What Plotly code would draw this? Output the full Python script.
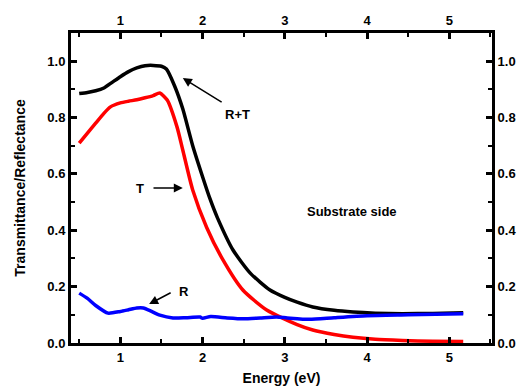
import plotly.graph_objects as go

# R+T (black)
e_rt = [0.5, 0.6, 0.7, 0.8, 0.9, 1.0, 1.1, 1.2, 1.3, 1.4, 1.5, 1.56, 1.66, 1.76, 1.88, 2.0, 2.09, 2.18, 2.37,
        2.58, 2.82, 3.0, 3.15, 3.34, 3.6, 3.83, 4.1, 4.43, 4.8, 5.17]
rt = [0.885, 0.889, 0.895, 0.905, 0.925, 0.945, 0.963, 0.976, 0.984, 0.985, 0.982, 0.972, 0.912, 0.83, 0.7,
      0.59, 0.512, 0.445, 0.33, 0.248, 0.188, 0.162, 0.145, 0.128, 0.116, 0.11, 0.106, 0.104, 0.105, 0.107]

# T (red)
e_t = [0.5, 0.6, 0.7, 0.8, 0.88, 1.0, 1.1, 1.2, 1.3, 1.4, 1.48, 1.57, 1.69, 1.76, 1.88, 2.05, 2.25, 2.49,
       2.78, 3.15, 3.34, 3.6, 3.83, 4.1, 4.43, 4.8, 5.17]
t = [0.709, 0.745, 0.78, 0.815, 0.838, 0.852, 0.858, 0.863, 0.87, 0.878, 0.887, 0.862, 0.766, 0.684, 0.543,
     0.41, 0.294, 0.188, 0.117, 0.065, 0.046, 0.03, 0.02, 0.013, 0.009, 0.006, 0.005]

# R (blue)
e_r = [0.5, 0.6, 0.7, 0.85, 1.0, 1.1, 1.2, 1.28, 1.38, 1.48, 1.64, 1.8, 1.97, 2.0, 2.1, 2.3, 2.5, 2.7, 2.9,
       3.03, 3.3, 3.6, 4.0, 4.5, 5.17]
r = [0.177, 0.158, 0.133, 0.106, 0.112, 0.118, 0.124, 0.124, 0.112, 0.099, 0.089, 0.09, 0.092, 0.088, 0.094,
     0.089, 0.086, 0.089, 0.092, 0.089, 0.084, 0.09, 0.097, 0.1, 0.104]

x_ticks = [1, 2, 3, 4, 5]
y_ticks = [0.0, 0.2, 0.4, 0.6, 0.8, 1.0]
x_range = [0.4, 5.52]
y_range = [0.0, 1.1]

FONT = "Liberation Sans, Arial, sans-serif"

fig = go.Figure()
fig.add_trace(go.Scatter(x=e_rt, y=rt, mode="lines", line=dict(color="black", width=3.5, shape="spline", smoothing=0.6)))
fig.add_trace(go.Scatter(x=e_t, y=t, mode="lines", line=dict(color="#ff0000", width=3.5, shape="spline", smoothing=0.6)))
fig.add_trace(go.Scatter(x=e_r, y=r, mode="lines", line=dict(color="#0000ff", width=3.5, shape="spline", smoothing=0.6)))
# dummy trace for top/right axes
fig.add_trace(go.Scatter(x=[x_range[0]], y=[y_range[0]], xaxis="x2", yaxis="y2", mode="markers",
                         marker=dict(opacity=0), hoverinfo="skip"))

tickfont = dict(family=FONT, size=13, color="black", weight="bold")
common = dict(showline=True, linecolor="black", linewidth=3, ticks="inside", ticklen=6, tickwidth=2.5,
              tickcolor="black", showgrid=False, zeroline=False, tickfont=tickfont, automargin=False)
minor_x = dict(dtick=0.5, ticks="inside", ticklen=4, tickwidth=2, tickcolor="black", showgrid=False)
minor_y = dict(dtick=0.1, ticks="inside", ticklen=4, tickwidth=2, tickcolor="black", showgrid=False)

fig.update_layout(
    width=525, height=387,
    margin=dict(l=71, r=33, t=33, b=44),
    paper_bgcolor="white", plot_bgcolor="white",
    showlegend=False,
    xaxis=dict(range=x_range, tickvals=x_ticks, ticktext=[str(v) for v in x_ticks], minor=minor_x,
               title=dict(text="Energy (eV)", font=dict(family=FONT, size=14, color="black", weight="bold"),
                          standoff=10), **common),
    yaxis=dict(range=y_range, tickvals=y_ticks, ticktext=[f"{v:.1f}" for v in y_ticks], minor=minor_y,
               title=dict(text="Transmittance/Reflectance",
                          font=dict(family=FONT, size=14, color="black", weight="bold"), standoff=19), **common),
    xaxis2=dict(range=x_range, overlaying="x", side="top", tickvals=x_ticks,
                ticktext=[str(v) for v in x_ticks], minor=minor_x, **common),
    yaxis2=dict(range=y_range, overlaying="y", side="right", tickvals=y_ticks,
                ticktext=[f"{v:.1f}" for v in y_ticks], minor=minor_y, **common),
)

afont = dict(family=FONT, size=13, color="black", weight="bold")
# text labels
fig.add_annotation(x=2.42, y=0.81, text="R+T", showarrow=False, font=afont)
fig.add_annotation(x=1.24, y=0.55, text="T", showarrow=False, font=afont)
fig.add_annotation(x=1.77, y=0.181, text="R", showarrow=False, font=afont)
fig.add_annotation(x=3.82, y=0.468, text="Substrate side", showarrow=False, font=afont)
# arrows
arrow = dict(text="", showarrow=True, arrowhead=2, arrowsize=1.2, arrowwidth=1.5, arrowcolor="black",
             axref="x", ayref="y", standoff=0, startstandoff=0)
fig.add_annotation(x=1.76, y=0.94, ax=2.25, ay=0.851, **arrow)
fig.add_annotation(x=1.76, y=0.55, ax=1.385, ay=0.55, **arrow)
fig.add_annotation(x=1.35, y=0.138, ax=1.63, ay=0.181, **arrow)

fig.write_html("out.html", config={"displayModeBar": False},
               post_script="document.body.style.margin='0';document.body.style.overflow='hidden';")
